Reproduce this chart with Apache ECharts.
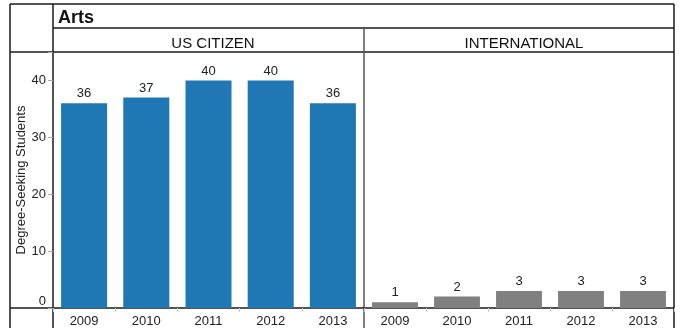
<!DOCTYPE html>
<html>
<head>
<meta charset="utf-8">
<script src="https://cdn.jsdelivr.net/npm/echarts@6/dist/echarts.min.js"></script>
<style>
  html, body { margin: 0; padding: 0; background: #fff; }
  #chart { width: 682px; height: 328px; }
</style>
</head>
<body>
<div id="chart"></div>
<script>
// data
const years = ['2009', '2010', '2011', '2012', '2013'];
const usCitizen = [36, 37, 40, 40, 36];
const international = [1, 2, 3, 3, 3];
const yTicks = [0, 10, 20, 30, 40];

const FONT = 'Liberation Sans, Arial, sans-serif';
const LINE = '#1a1a1a';

const chart = echarts.init(document.getElementById('chart'), null, { renderer: 'canvas' });

function frameLine(x1, y1, x2, y2, color) {
  return {
    type: 'line',
    shape: { x1: x1, y1: y1, x2: x2, y2: y2 },
    style: { stroke: color || LINE, lineWidth: 1.5 },
    silent: true
  };
}

function xAxisFor(gridIndex) {
  return {
    type: 'category',
    gridIndex: gridIndex,
    data: years,
    axisLine: { show: false },
    axisTick: { show: true, length: 4, lineStyle: { color: '#ccc' } },
    axisLabel: { color: '#222', fontSize: 13, fontFamily: FONT, margin: 7 }
  };
}

function yAxisFor(gridIndex, showLabels) {
  return {
    type: 'value',
    gridIndex: gridIndex,
    min: 0,
    max: 45,
    interval: 10,
    name: showLabels ? 'Degree-Seeking Students' : '',
    nameLocation: 'middle',
    nameGap: 25,
    nameRotate: 90,
    nameTextStyle: { color: '#222', fontSize: 13, fontFamily: FONT },
    splitLine: { show: false },
    axisLine: { show: false },
    axisTick: { show: showLabels, length: 5, lineStyle: { color: '#aaa' } },
    axisLabel: {
      show: showLabels, color: '#222', fontSize: 13, fontFamily: FONT, margin: 7,
      verticalAlignMinLabel: 'bottom',
      formatter: v => (yTicks.indexOf(v) >= 0 ? String(v) : '')
    }
  };
}

function barSeries(idx, data, color) {
  return {
    type: 'bar',
    xAxisIndex: idx,
    yAxisIndex: idx,
    data: data,
    barCategoryGap: '26%',
    itemStyle: { color: color },
    label: {
      show: true, position: 'top', distance: 3,
      color: '#222', fontSize: 13, fontFamily: FONT
    },
    silent: true
  };
}

chart.setOption({
  animation: false,
  title: [
    { text: 'Arts', left: 53, top: 4,
      textStyle: { fontSize: 18, fontWeight: 'bold', color: '#111', fontFamily: FONT } },
    { text: 'US CITIZEN', left: 208, top: 31, textAlign: 'center',
      textStyle: { fontSize: 15, fontWeight: 'normal', color: '#111', fontFamily: FONT } },
    { text: 'INTERNATIONAL', left: 519, top: 31, textAlign: 'center',
      textStyle: { fontSize: 15, fontWeight: 'normal', color: '#111', fontFamily: FONT } }
  ],
  grid: [
    { left: 53, right: 318, top: 52, bottom: 20 },
    { left: 364, right: 8, top: 52, bottom: 20 }
  ],
  xAxis: [xAxisFor(0), xAxisFor(1)],
  yAxis: [yAxisFor(0, true), yAxisFor(1, false)],
  series: [
    barSeries(0, usCitizen, '#1f77b4'),
    barSeries(1, international, '#808080')
  ],
  graphic: [
    // table frame
    frameLine(10, 4, 674, 4),
    frameLine(10, 4, 10, 328),
    frameLine(674, 4, 674, 328),
    frameLine(53, 4, 53, 328),
    frameLine(53, 28, 674, 28),
    frameLine(10, 52, 674, 52),
    frameLine(364, 28, 364, 328, '#555'),
    frameLine(10, 308, 674, 308)
  ]
});
</script>
</body>
</html>
